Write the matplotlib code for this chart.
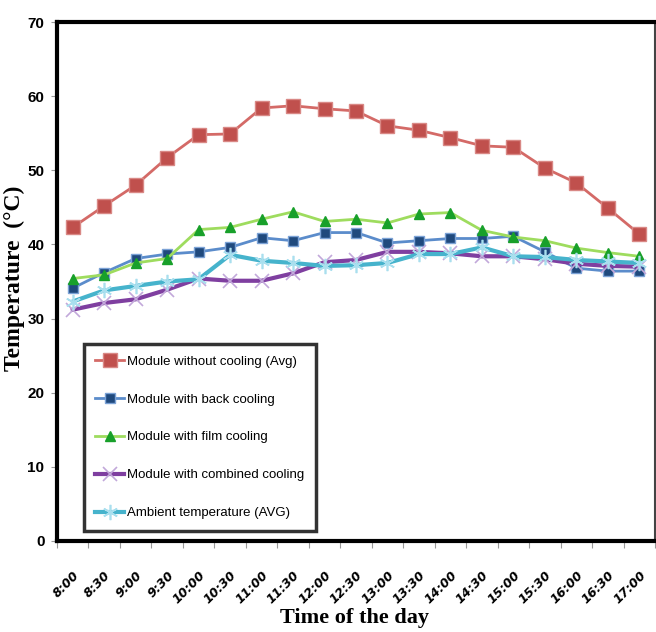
import matplotlib
matplotlib.use("Agg")
import matplotlib.pyplot as plt

times = ["8:00", "8:30", "9:00", "9:30", "10:00", "10:30", "11:00", "11:30", "12:00", "12:30",
         "13:00", "13:30", "14:00", "14:30", "15:00", "15:30", "16:00", "16:30", "17:00"]
no_cooling = [42.3, 45.2, 48.0, 51.7, 54.8, 54.9, 58.4, 58.7, 58.3, 58.0,
              56.0, 55.4, 54.4, 53.3, 53.1, 50.3, 48.3, 44.9, 41.4]
back_cooling = [34.1, 36.2, 38.1, 38.7, 39.0, 39.6, 40.9, 40.5, 41.6, 41.6,
                40.2, 40.5, 40.8, 40.8, 41.1, 39.0, 36.8, 36.4, 36.4]
film_cooling = [35.4, 35.9, 37.5, 38.1, 42.0, 42.3, 43.4, 44.4, 43.1, 43.4,
                42.9, 44.1, 44.3, 41.9, 41.0, 40.5, 39.5, 38.9, 38.4]
combined_cooling = [31.2, 32.1, 32.6, 33.9, 35.4, 35.1, 35.1, 36.1, 37.6, 37.9,
                    39.0, 39.0, 38.8, 38.4, 38.4, 38.0, 37.4, 37.1, 37.0]
ambient = [32.3, 33.8, 34.4, 35.0, 35.3, 38.6, 37.8, 37.5, 37.1, 37.2,
           37.5, 38.7, 38.7, 39.6, 38.4, 38.3, 37.9, 37.7, 37.5]
labels = ["Module without cooling (Avg)", "Module with back cooling", "Module with film cooling",
          "Module with combined cooling", "Ambient temperature (AVG)"]

fig = plt.figure(figsize=(6.56, 6.32), dpi=100)
ax = fig.add_axes([57/656, 1-541/632, (655-57)/656, (541-22)/632])
x = list(range(len(times)))

ax.plot(x, no_cooling, color="#D46A67", lw=2, marker="s", ms=10, mfc="#C0504D", mec="#D98885", mew=1, label=labels[0])
ax.plot(x, back_cooling, color="#5B8CCB", lw=2, marker="s", ms=7, mfc="#1F497D", mec="#7BA2D6", mew=1, label=labels[1])
ax.plot(x, film_cooling, color="#9EDC5E", lw=2, marker="^", ms=7, mfc="#18A02A", mec="#18A02A", label=labels[2])
ax.plot(x, combined_cooling, color="#7F3FA0", lw=3, marker="x", ms=10, mec="#C2A8DA", mew=1.2, label=labels[3])
ax.plot(x, ambient, color="#46B3CC", lw=3, marker=(6, 2, 0), ms=11, mec="#A9DFEE", mew=1.2, label=labels[4])

ax.set_xlim(-0.5, len(times) - 0.5)
ax.set_ylim(0, 70)
ax.set_yticks(range(0, 71, 10))
ax.set_yticklabels([str(v) for v in range(0, 71, 10)], fontfamily="Liberation Sans", fontsize=11, fontweight="bold")
ax.set_xticks([i - 0.5 for i in range(len(times) + 1)], minor=False)
ax.set_xticklabels([])
ax.set_xticks(x, minor=True)
ax.set_xticklabels(times, minor=True, rotation=45, ha="right", rotation_mode="anchor",
                   fontfamily="DejaVu Sans", fontsize=9, fontweight="bold", fontstyle="italic")
ax.tick_params(axis="x", which="minor", length=0, pad=20)
ax.tick_params(axis="x", which="major", length=5, color="#999999", direction="out")
ax.tick_params(axis="y", length=4, color="#999999", direction="out", pad=5)

for side in ["left", "top", "bottom"]:
    ax.spines[side].set_linewidth(3)
    ax.spines[side].set_color("black")
ax.spines["right"].set_linewidth(1.5)
ax.spines["right"].set_color("#444444")

ax.set_ylabel("Temperature  (°C)", fontfamily="Liberation Serif", fontsize=17, fontweight="bold")
ax.yaxis.set_label_coords(-0.053, 0.507)
ax.set_xlabel("Time of the day", fontfamily="Liberation Serif", fontsize=16, fontweight="bold")
ax.xaxis.set_label_coords(0.498, -0.13)

leg = ax.legend(loc="lower left", bbox_to_anchor=(0.045, 0.02), frameon=True, fancybox=False,
                prop={"family": "Liberation Sans", "size": 9.5}, handlelength=2.2,
                labelspacing=1.95, borderpad=0.85, handletextpad=0.25, borderaxespad=0)
leg.get_frame().set_edgecolor("black")
leg.get_frame().set_linewidth(2.5)

fig.savefig("out.png", dpi=100)
